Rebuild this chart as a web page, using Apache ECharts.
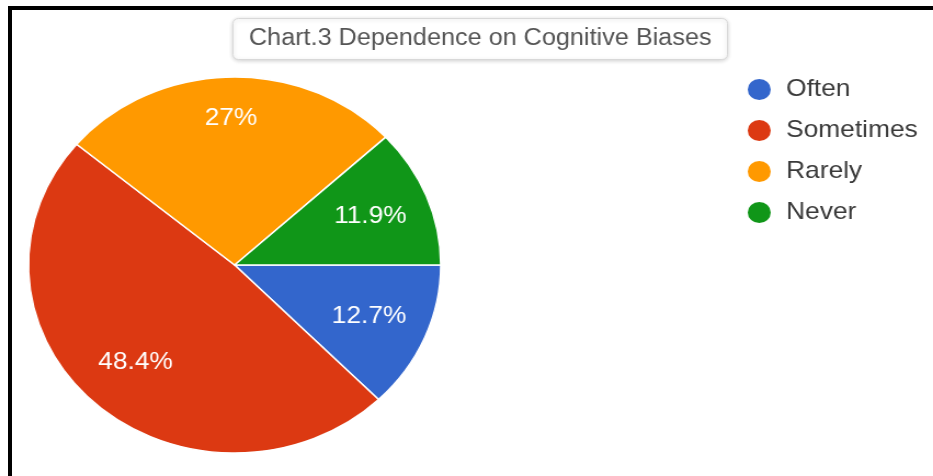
<!DOCTYPE html>
<html>
<head>
<meta charset="utf-8">
<script src="https://cdn.jsdelivr.net/npm/echarts@6/dist/echarts.min.js"></script>
<style>
  body { margin: 0; background: #fff; }
  #frame { position: relative; width: 933px; height: 476px; overflow: hidden; background: #fff; }
  #borderLeft { position: absolute; left: 8px; top: 6px; width: 4px; height: 470px; background: #000; }
  #borderTop { position: absolute; left: 8px; top: 6px; width: 925px; height: 4px; background: #000; }
  /* the reference is stretched sideways, so the chart is drawn narrower and scaled */
  #chart { position: absolute; left: 0; top: 0; width: 851px; height: 476px;
           transform: scaleX(1.0964); transform-origin: 0 0; }
</style>
</head>
<body>
<div id="frame">
  <div id="chart"></div>
  <div id="borderLeft"></div>
  <div id="borderTop"></div>
</div>
<script>
var categories = ['Often', 'Sometimes', 'Rarely', 'Never'];
var values = [12.7, 48.4, 27, 11.9];
var labels = ['12.7%', '48.4%', '27%', '11.9%'];
var colors = ['#3366cc', '#dc3912', '#ff9900', '#109618'];

var slices = [];
var labelItems = [];
for (var i = 0; i < categories.length; i++) {
    slices.push({ name: categories[i], value: values[i], itemStyle: { color: colors[i] } });
    var item = { name: categories[i], value: values[i], label: { formatter: labels[i] } };
    if (categories[i] === 'Rarely') {
        // this one sits further out in the reference: empty 2nd line lifts it
        item.label.formatter = labels[i] + '\n ';
        item.label.lineHeight = 27;
    }
    labelItems.push(item);
}

var chart = echarts.init(document.getElementById('chart'));
var option = {
    backgroundColor: 'transparent',
    animation: false,
    title: {
        text: 'Chart.3 Dependence on Cognitive Biases',
        left: 212,
        top: 18,
        padding: [9, 15],
        borderColor: '#d8d8d8',
        borderWidth: 1,
        borderRadius: 5,
        backgroundColor: '#fff',
        shadowColor: 'rgba(0,0,0,0.18)',
        shadowBlur: 4,
        shadowOffsetY: 1,
        textStyle: {
            fontFamily: 'Liberation Sans, Arial, sans-serif',
            fontSize: 23,
            fontWeight: 'normal',
            color: '#555',
            lineHeight: 24
        }
    },
    legend: {
        orient: 'vertical',
        left: 680,
        top: 77,
        padding: 0,
        icon: 'circle',
        itemWidth: 23,
        itemHeight: 23,
        itemGap: 16,
        data: categories,
        textStyle: {
            fontFamily: 'Liberation Sans, Arial, sans-serif',
            fontSize: 24,
            color: '#3a3a3a',
            padding: [0, 0, 0, 8]
        }
    },
    series: [
        {
            name: 'slices',
            type: 'pie',
            center: [214, 265],
            radius: 188,
            startAngle: 0,
            clockwise: true,
            silent: true,
            label: { show: false },
            labelLine: { show: false },
            itemStyle: { borderColor: '#fff', borderWidth: 1.5 },
            data: slices
        },
        {
            name: 'labels',
            type: 'pie',
            center: [214, 265],
            radius: [72, 188],
            startAngle: 0,
            clockwise: true,
            silent: true,
            itemStyle: { color: 'rgba(0,0,0,0)' },
            labelLine: { show: false },
            label: {
                show: true,
                position: 'inside',
                fontFamily: 'Liberation Sans, Arial, sans-serif',
                fontSize: 24,
                color: '#fff'
            },
            data: labelItems
        }
    ]
};
chart.setOption(option);
</script>
</body>
</html>
